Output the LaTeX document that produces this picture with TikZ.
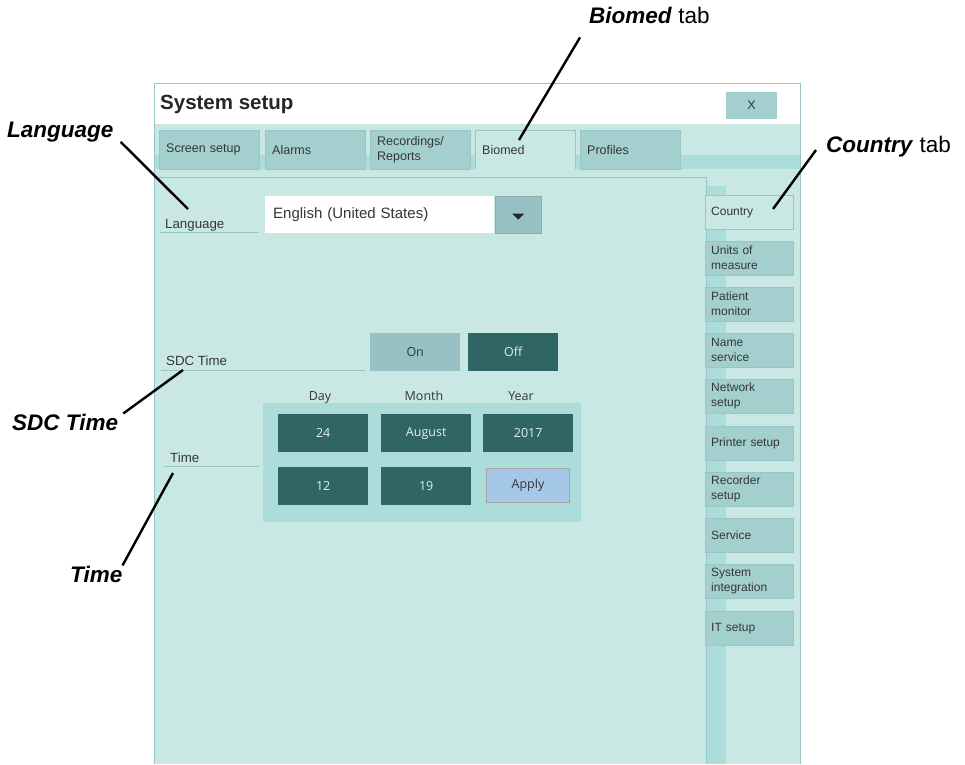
\documentclass[tikz,border=0pt]{standalone}
\usepackage{fontspec}
\setmainfont{Liberation Sans}
\newfontfamily\uifont{Open Sans}
\definecolor{panel}{HTML}{C9E8E3}
\definecolor{tabbg}{HTML}{A3CFCF}
\definecolor{strip}{HTML}{ACDDDA}
\definecolor{edge}{HTML}{98C5C5}
\definecolor{darkbtn}{HTML}{2F6665}
\definecolor{onbtn}{HTML}{97C1C2}
\definecolor{applybtn}{HTML}{A6C8E8}
\definecolor{uitext}{HTML}{363636}

\begin{document}
\begin{tikzpicture}[x=1pt,y=-1pt,
    tab/.style={draw=edge,fill=tabbg,anchor=north west,minimum height=39pt,text width=86pt,inner xsep=7pt,inner ysep=0pt,align=left,text=uitext,font=\fontsize{12.5}{15}\selectfont},
    sidetab/.style={draw=edge,fill=tabbg,anchor=north west,minimum height=34pt,text width=76pt,inner xsep=6pt,inner ysep=0pt,align=left,text=uitext,font=\fontsize{12}{15}\selectfont},
    tag/.style={anchor=base west,inner sep=0pt,text=uitext,font=\fontsize{13.3}{15}\selectfont},
    btn/.style={anchor=north west,minimum width=90pt,minimum height=38pt,inner sep=0pt,fill=darkbtn,text=white!88!darkbtn,font=\uifont\fontsize{12.5}{15}\selectfont},
    head/.style={anchor=base,inner sep=0pt,text=uitext,font=\uifont\fontsize{12.5}{15}\selectfont},
    note/.style={anchor=base west,inner sep=0pt,text=black,font=\fontsize{22.5}{27}\selectfont},
    pointer/.style={line width=2.4pt,black}]
  \useasboundingbox (0,0) rectangle (965,764);
  \fill[white] (0,0) rectangle (965,764);

  % window
  \fill[panel] (154,124) rectangle (800,764);
  \fill[strip] (154,155) rectangle (800,169);
  \fill[strip] (706,186) rectangle (726,764);
  \draw[edge] (154,177) -- (706,177) -- (706,764);
  \fill[white] (154,83) rectangle (800,124);
  \draw[edge] (154,764) -- (154,83) -- (800,83) -- (800,764);
  \node[anchor=base west,inner sep=0pt,text=black!85,font=\bfseries\fontsize{20.5}{24}\selectfont] (title) at (160,109) {System setup};
  \node[fill=tabbg,minimum width=51pt,minimum height=27pt,inner sep=0pt,text=uitext,font=\fontsize{12.5}{15}\selectfont] (closeBtn) at (751.5,105.5) {X};

  % top tabs
  \node[tab] (tScreen) at (159,130) {Screen setup};
  \node[tab] (tAlarms) at (265,130) {Alarms};
  \node[tab] (tRec) at (370,130) {Recordings/\\Reports};
  \node[tab,fill=panel,draw=none] (tBiomed) at (475,130) {Biomed};
  \draw[edge] (tBiomed.south west) |- (tBiomed.north east) -- (tBiomed.south east);
  \node[tab] (tProfiles) at (580,130) {Profiles};

  % side tabs
  \node[sidetab,fill=panel] (sCountry) at (705,195) {Country};
  \node[sidetab] (sUnits) at (705,241) {Units of\\measure};
  \node[sidetab] (sPatient) at (705,287) {Patient\\monitor};
  \node[sidetab] (sName) at (705,333) {Name\\service};
  \node[sidetab] (sNetwork) at (705,379) {Network\\setup};
  \node[sidetab] (sPrinter) at (705,426) {Printer setup};
  \node[sidetab] (sRecorder) at (705,472) {Recorder\\setup};
  \node[sidetab] (sService) at (705,518) {Service};
  \node[sidetab] (sSystem) at (705,564) {System\\integration};
  \node[sidetab] (sIT) at (705,611) {IT setup};

  % language row
  \node[tag] (langTag) at (165,228) {Language};
  \draw[edge] (160,232) -- (259,232);
  \node[anchor=north west,fill=white,minimum height=37pt,text width=213pt,inner xsep=8pt,inner ysep=0pt,align=left,text=uitext,font=\fontsize{15}{18}\selectfont] (langBox) at (265,196) {English (United States)};
  \node[anchor=north west,fill=onbtn,draw=onbtn!90!black,minimum width=46pt,minimum height=37pt,inner sep=0pt] (langArrow) at (495,196) {};
  \fill[black!85] ([xshift=-6pt,yshift=1pt]langArrow.center) -- ++(12,0) -- ++(-6,6) -- cycle;

  % SDC time row
  \node[tag] (sdcTag) at (166,365) {SDC Time};
  \draw[edge] (161,370) -- (365,370);
  \node[btn,fill=onbtn,text=uitext] (onBtn) at (370,333) {On};
  \node[btn] (offBtn) at (468,333) {Off};

  % date and time
  \node[tag] (timeTag) at (170,462) {Time};
  \draw[edge] (164,466) -- (259,466);
  \node[head] (dayHd) at (320,400) {Day};
  \node[head] (monthHd) at (424,400) {Month};
  \node[head] (yearHd) at (521,400) {Year};
  \fill[strip] (263,403) rectangle (581,522);
  \node[btn] (dayBtn) at (278,414) {24};
  \node[btn] (monthBtn) at (381,414) {August};
  \node[btn] (yearBtn) at (483,414) {2017};
  \node[btn] (hourBtn) at (278,467) {12};
  \node[btn] (minBtn) at (381,467) {19};
  \node[btn,minimum width=83pt,minimum height=34pt,fill=applybtn,draw=black!35,line width=1pt,text=uitext] (applyBtn) at (486,468) {Apply};

  % callouts
  \node[note] (bioNote) at (589,23) {\textbf{\textit{Biomed}} tab};
  \node[note] (countryNote) at (826,152) {\textbf{\textit{Country}} tab};
  \node[note] (langNote) at (7,137) {\textbf{\textit{Language}}};
  \node[note] (sdcNote) at (12,430) {\textbf{\textit{SDC Time}}};
  \node[note] (timeNote) at (70,582) {\textbf{\textit{Time}}};
  \coordinate (bioEnd) at (519,140);
  \coordinate (countryEnd) at (773,209);
  \coordinate (langEnd) at (188,209);
  \coordinate (sdcEnd) at (183,370);
  \coordinate (timeEnd) at (173,473);
  \draw[pointer] ([xshift=-9pt,yshift=-14pt]bioNote.south west) -- (bioEnd);
  \draw[pointer] ([xshift=-10pt,yshift=2pt]countryNote.base west) -- (countryEnd);
  \draw[pointer] ([xshift=7pt]langNote.south east) -- (langEnd);
  \draw[pointer] ([xshift=5pt]sdcNote.north east) -- (sdcEnd);
  \draw[pointer] (timeNote.north east) -- (timeEnd);
\end{tikzpicture}
\end{document}
